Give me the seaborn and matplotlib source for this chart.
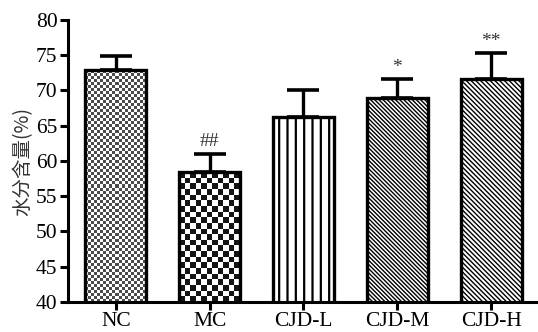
import numpy as np
import pandas as pd
import matplotlib
matplotlib.use("Agg")
import matplotlib.pyplot as plt
import seaborn as sns

# Water content of each group (mean and SD)
groups = ["NC", "MC", "CJD-L", "CJD-M", "CJD-H"]
means = [72.9, 58.4, 66.3, 69.0, 71.6]
sds = [2.0, 2.6, 3.8, 2.6, 3.7]
marks = ["", "##", "", "*", "**"]
y_ticks = [40, 45, 50, 55, 60, 65, 70, 75, 80]

sns.set_theme(style="ticks")
plt.rcParams["font.family"] = ["Liberation Serif", "Noto Sans CJK SC"]
plt.rcParams["hatch.linewidth"] = 1.6
plt.rcParams["hatch.color"] = "black"

BS = chr(92)  # backslash hatch glyph

df = pd.DataFrame({"group": groups, "value": means})

fig = plt.figure(figsize=(5.38, 3.32), dpi=100)
ax = fig.add_axes([68 / 538, 30 / 332, 470 / 538, 282 / 332])

sns.barplot(data=df, x="group", y="value", order=groups, color="white",
            width=0.65, edgecolor="black", linewidth=2.4, ax=ax,
            errorbar=None, zorder=2)

Y0, Y1 = 40, 80
ax.set_ylim(Y0, Y1)
ax.set_xlim(-0.51, 4.5)

# One-sided (upper) SD whiskers
x = np.arange(len(groups))
ax.errorbar(x, means, yerr=[np.zeros(len(sds)), sds], fmt="none",
            ecolor="black", elinewidth=2.4, capsize=11.5, capthick=2.6,
            zorder=1)

bars = ax.patches[:len(groups)]

# Hatched fills
bars[2].set_hatch("||")
bars[3].set_hatch(BS * 8)
bars[4].set_hatch(BS * 7)
for b in (bars[3], bars[4]):
    if hasattr(b, "set_hatch_linewidth"):
        b.set_hatch_linewidth(1.0)


def checker_fill(bar, cell_px, dark):
    """Fill the visible part of a bar with a checkerboard clipped to it."""
    fig.canvas.draw()
    x0, w = bar.get_x(), bar.get_width()
    ylo = max(bar.get_y(), Y0)
    yhi = bar.get_y() + bar.get_height()
    p0 = ax.transData.transform((x0, ylo))
    p1 = ax.transData.transform((x0 + w, yhi))
    nx = max(1, int(round(abs(p1[0] - p0[0]) / cell_px)))
    ny = max(1, int(round(abs(p1[1] - p0[1]) / cell_px)))
    grid = (np.add.outer(np.arange(ny), np.arange(nx)) % 2).astype(float)
    img = np.where(grid[..., None] > 0, np.array([1.0, 1.0, 1.0]),
                   np.array([dark, dark, dark]))
    im = ax.imshow(img, extent=(x0, x0 + w, ylo, yhi), aspect="auto",
                   interpolation="nearest", zorder=1.5)
    im.set_clip_path(bar)
    bar.set_facecolor("none")


checker_fill(bars[0], 3.0, 0.3)
checker_fill(bars[1], 5.6, 0.08)

ax.set_ylim(Y0, Y1)
ax.set_xlim(-0.51, 4.5)

# Significance marks above the whiskers
for xi, m, s, t in zip(x, means, sds, marks):
    if t:
        ax.text(xi, m + s + 0.5, t, ha="center", va="bottom",
                fontsize=14, color="#333333")

ax.set_yticks(y_ticks)
ax.set_yticklabels([str(v) for v in y_ticks])
ax.set_xlabel("")
ax.set_ylabel("水分含量(%)", fontsize=14, family=["Noto Sans CJK SC"],
              color="#333333", labelpad=2)

for side in ["top", "right"]:
    ax.spines[side].set_visible(False)
for side in ["left", "bottom"]:
    ax.spines[side].set_linewidth(2.2)
    ax.spines[side].set_color("black")

ax.tick_params(axis="both", direction="out", length=6, width=2.2,
               color="black", labelsize=15.5, labelcolor="black", pad=1.5)

fig.savefig("out.png", dpi=100)
